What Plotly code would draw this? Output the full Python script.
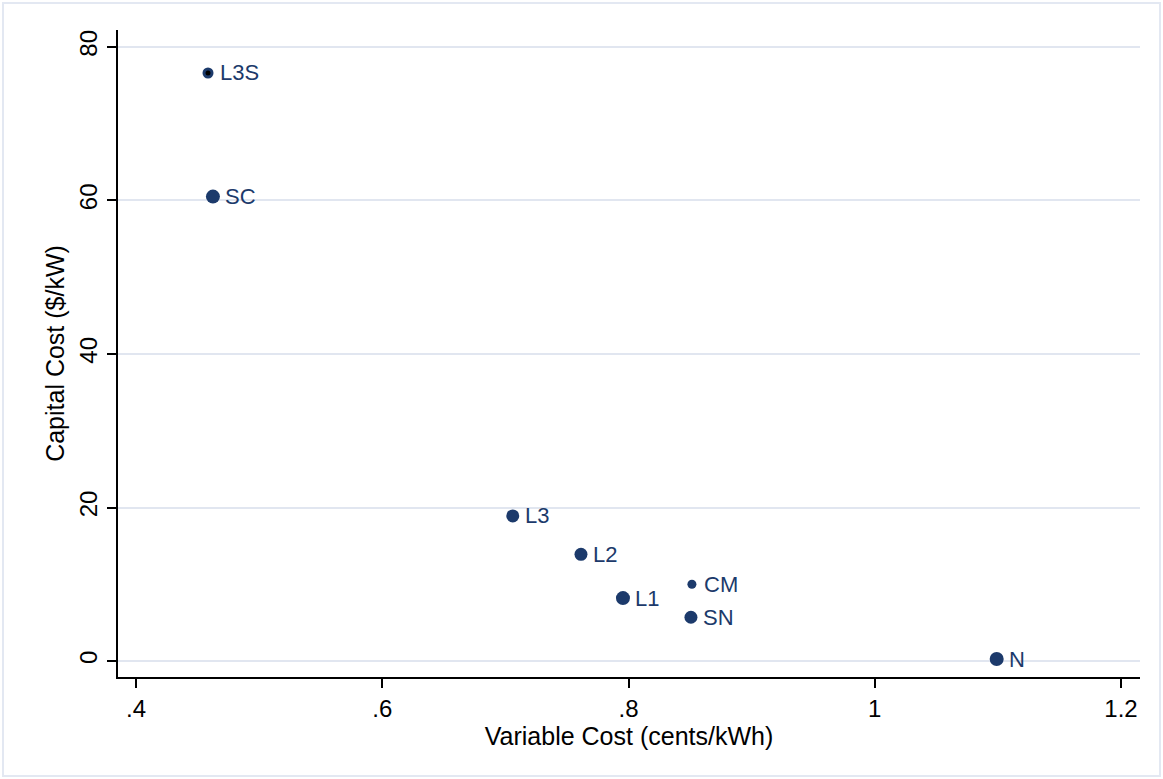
import plotly.graph_objects as go

labels = ["L3S", "SC", "L3", "L2", "L1", "CM", "SN", "N"]
variable_cost = [0.4585, 0.4625, 0.706, 0.7614, 0.7955, 0.8515, 0.8507, 1.099]
capital_cost = [76.6, 60.5, 18.9, 13.9, 8.2, 10.0, 5.7, 0.26]
marker_sizes = [11, 14, 13, 13, 14, 9, 13, 14]

x_ticks = [0.4, 0.6, 0.8, 1.0, 1.2]
x_ticklabels = [".4", ".6", ".8", "1", "1.2"]
y_ticks = [0, 20, 40, 60, 80]
y_ticklabels = ["0", "20", "40", "60", "80"]

navy = "#1c3a6b"
font_family = "Liberation Sans, Arial, sans-serif"

fig = go.Figure()
fig.add_trace(go.Scatter(
    x=variable_cost, y=capital_cost, mode="markers",
    marker=dict(size=marker_sizes, color=navy, opacity=1, line=dict(width=0)),
    showlegend=False, cliponaxis=False, hoverinfo="skip",
))
# black centre of the L3S marker
fig.add_trace(go.Scatter(
    x=variable_cost[:1], y=capital_cost[:1], mode="markers",
    marker=dict(size=5, color="black", opacity=1), showlegend=False, hoverinfo="skip",
))
for xv, yv, lab in zip(variable_cost, capital_cost, labels):
    fig.add_annotation(x=xv, y=yv, text=lab, showarrow=False, xanchor="left",
                       yanchor="middle", xshift=10,
                       font=dict(family=font_family, size=22, color=navy))

axis_common = dict(
    showline=True, linecolor="black", linewidth=2,
    ticks="outside", ticklen=9, tickwidth=2, tickcolor="black",
    tickfont=dict(family=font_family, size=24, color="black"),
    zeroline=False,
)
fig.update_xaxes(
    range=[0.3854, 1.2154], tickvals=x_ticks, ticktext=x_ticklabels,
    showgrid=False,
    title=dict(text="Variable Cost (cents/kWh)", font=dict(family=font_family, size=25, color="black"), standoff=2),
    **axis_common,
)
fig.update_yaxes(
    range=[-2.08, 82.2], tickvals=y_ticks, ticktext=y_ticklabels,
    tickangle=-90, showgrid=True, gridcolor="#e1e6f0", gridwidth=2,
    title=dict(text="Capital Cost ($/kW)", font=dict(family=font_family, size=25, color="black"), standoff=4),
    **axis_common,
)
fig.update_layout(
    width=1163, height=779,
    margin=dict(l=118, r=23, t=30, b=102),
    plot_bgcolor="white", paper_bgcolor="white",
    shapes=[dict(type="rect", xref="paper", yref="paper",
                 x0=-115/1022, x1=1+20/1022, y0=-99/647, y1=1+27/647,
                 line=dict(color="#e3e8f2", width=2), layer="below")],
)
fig.write_html("out.html", config={"displayModeBar": False},
               post_script="document.body.style.margin='0';")
